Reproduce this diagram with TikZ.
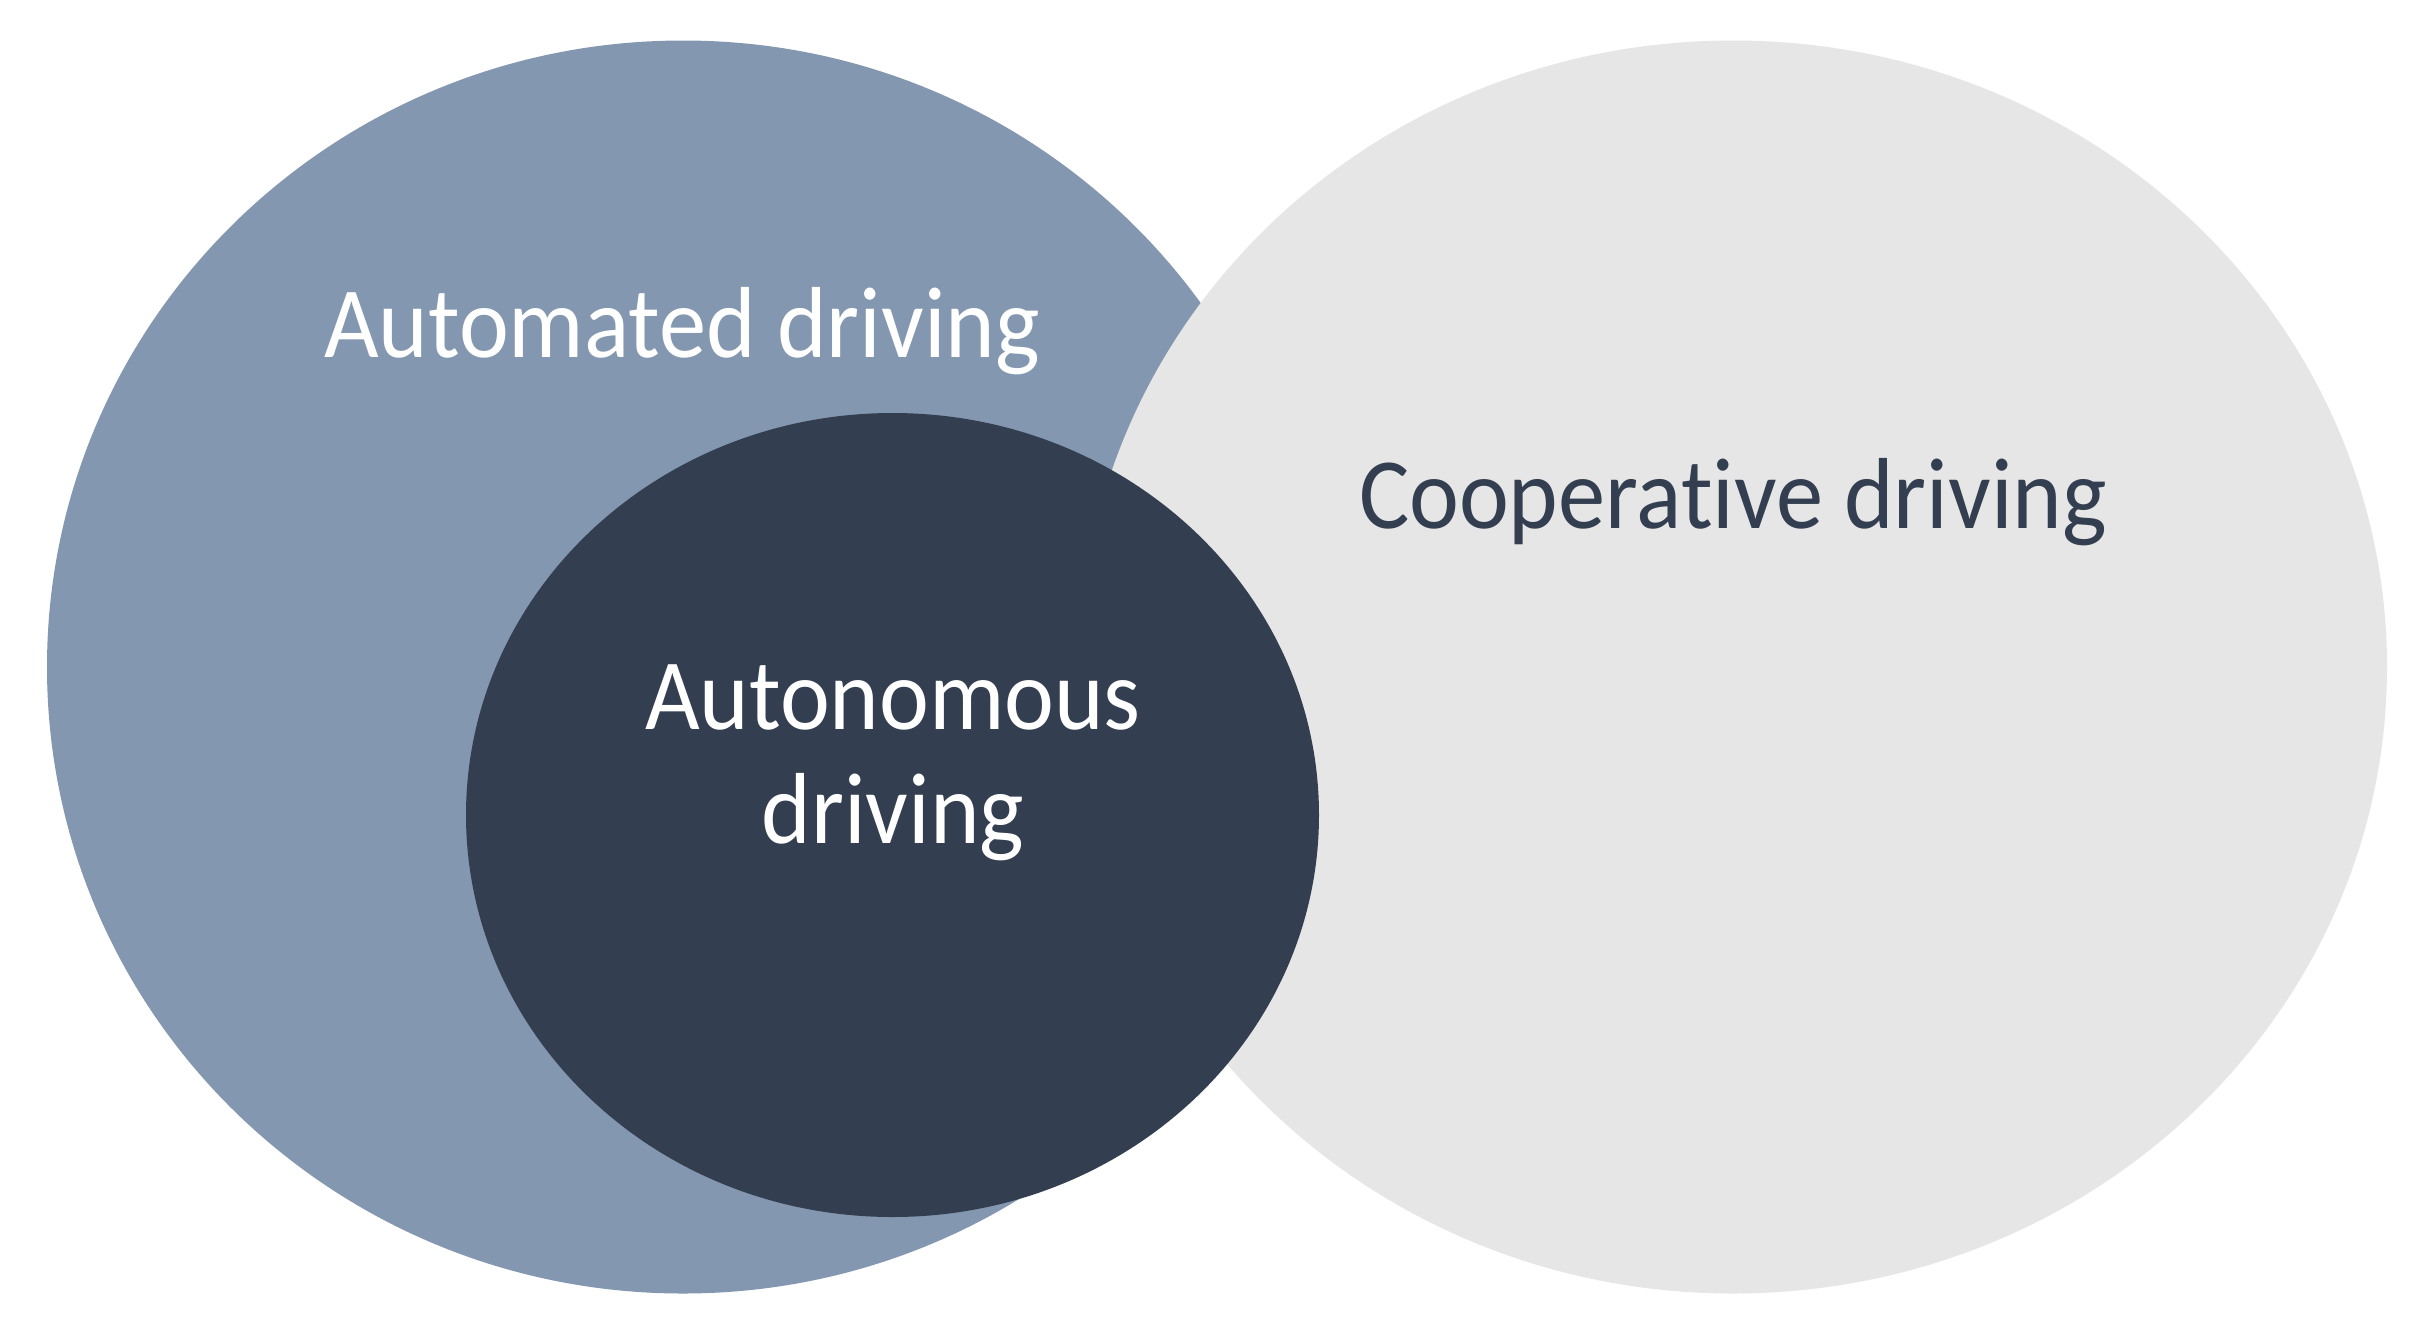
\documentclass[tikz,border=0pt]{standalone}
\usepackage{fontspec}
\setmainfont[Ligatures=NoCommon]{Carlito}
\definecolor{bluegray}{HTML}{8497B0}
\definecolor{darkslate}{HTML}{333F50}
\definecolor{lightgrey}{HTML}{E6E6E6}
\tikzset{
  lbl/.style={inner sep=0pt, anchor=base, xscale=0.935, font=\fontsize{50.5pt}{57pt}\selectfont},
}
\begin{document}
\begin{tikzpicture}[x=0.5pt,y=-0.5pt]
\useasboundingbox (0,0) rectangle (2427,1335);
\fill[white] (0,0) rectangle (2427,1335);
\fill[bluegray] (683,667) ellipse [x radius=318pt, y radius=313.25pt];
\fill[lightgrey] (1733,667) ellipse [x radius=327pt, y radius=313.25pt];
\fill[darkslate] (892.5,815) ellipse [x radius=213.25pt, y radius=201pt];
\node[lbl, text=white] (automated) at (682,357) {Automated driving};
\node[lbl, text=darkslate] (cooperative) at (1733,528) {Cooperative driving};
\node[lbl, text=white] (autonomous1) at (893,729) {Autonomous};
\node[lbl, text=white] (autonomous2) at (893,843) {driving};
\end{tikzpicture}
\end{document}
